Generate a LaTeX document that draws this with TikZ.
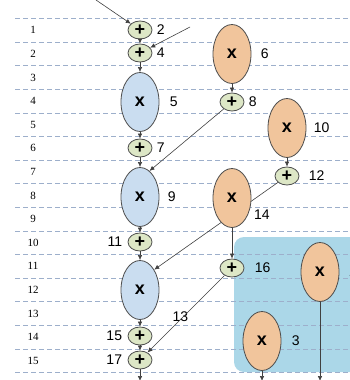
\documentclass[tikz,border=0pt]{standalone}
\usepackage{fontspec}
\setmainfont{Liberation Serif}
\setsansfont{Liberation Sans}
\usepackage{xcolor}
\usetikzlibrary{arrows.meta, shapes.geometric}

\definecolor{hijau}{HTML}{DDE7C6}
\definecolor{biru}{HTML}{CADDF0}
\definecolor{oranye}{HTML}{F1C59C}
\definecolor{blok}{HTML}{ABD7E8}
\definecolor{putus}{HTML}{9DAFCB}

\begin{document}
\begin{tikzpicture}[x=1pt, y=-1pt,
    op/.style={draw=black!70, ellipse, line width=0.8pt, inner sep=0pt,
               font=\sffamily\bfseries\fontsize{18}{18}\selectfont},
    tambah/.style={op, fill=hijau, minimum width=24pt, minimum height=18pt},
    kali/.style={op, minimum width=38pt, minimum height=59pt},
    kalib/.style={kali, fill=biru},
    kalio/.style={kali, fill=oranye},
    nomor/.style={font=\sffamily\fontsize{14}{14}\selectfont},
    baris/.style={font=\fontsize{11}{11}\selectfont},
    garis/.style={draw=black!75, line width=0.6pt, -{Latex[length=5pt, width=4.5pt]}},
    every label/.style={nomor}
  ]
    \useasboundingbox (0,0) rectangle (350,380);
    % blue block
    \fill[blok, rounded corners=10pt] (234,237) rectangle (365,372);
    % dashed grid and row numbers
    \foreach \k in {0,...,15}
      \draw[putus, dashed, dash pattern=on 5pt off 3pt, line width=0.6pt]
        (15,{18.5+23.6*\k}) -- (350,{18.5+23.6*\k});
    \foreach \k in {1,...,15}
      \node[baris] (r\k) at (33,{18.5+23.6*(\k-0.5)}) {\k};

    % main column
    \node[tambah, label={[label distance=1pt]right:2}] (p2) at (140,30) {+};
    \node[tambah, label={[label distance=1pt]right:4}] (p4) at (140,53) {+};
    \node[kalib, label={[label distance=7pt]right:5}] (m5) at (140,102) {x};
    \node[tambah, label={[label distance=1pt]right:7}] (p7) at (140,148) {+};
    \node[kalib, label={[label distance=5pt]right:9}] (m9) at (140,197) {x};
    \node[tambah, label={[label distance=2pt]left:11}] (p11) at (140,242) {+};
    \node[kalib, label={[label distance=13pt]-32:13}] (m13) at (140,290) {x};
    \node[tambah, label={[label distance=2pt]left:15}] (p15) at (140,336) {+};
    \node[tambah, label={[label distance=2pt]left:17}] (p17) at (140,360) {+};

    % right columns
    \node[kalio, label={[label distance=6pt]right:6}] (m6) at (232,54) {x};
    \node[tambah, label={[label distance=1pt]right:8}] (p8) at (232,102) {+};
    \node[kalio, label={[label distance=4pt]right:10}] (m10) at (287,128) {x};
    \node[tambah, label={[label distance=6pt]right:12}] (p12) at (287,176) {+};
    \draw[garis] (p12) -- (m13.55);
    \node[kalio, label={[label distance=0pt]-25:14}] (m14) at (232,198) {x};
    \node[tambah, label={[label distance=7pt]right:16}] (p16) at (232,268) {+};
    \node[kalio, label={[label distance=6pt]right:1}] (m1) at (320,272) {x};
    \node[kalio, label={[label distance=7pt]right:3}] (m3) at (262,341) {x};

    % loose ends
    \coordinate (a1) at (96,0);
    \coordinate (a2) at (190,27);
    \coordinate (o17) at (140,381);
    \coordinate (o3) at (262,381);
    \coordinate (o1) at (320,381);

    \draw[garis] (a1) -- (p2);
    \draw[garis] (a2) -- (p4);
    \draw[garis] (p2) -- (p4);
    \draw[garis] (p4) -- (m5);
    \draw[garis] (m5) -- (p7);
    \draw[garis] (p7) -- (m9);
    \draw[garis] (m9) -- (p11);
    \draw[garis] (p11) -- (m13);
    \draw[garis] (m13) -- (p15);
    \draw[garis] (p15) -- (p17);
    \draw[garis] (p17) -- (o17);
    \draw[garis] (m6) -- (p8);
    \draw[garis] (p8) -- (m9.70);
    \draw[garis] (m10) -- (p12);
    \draw[garis] (m14) -- (p16);
    \draw[garis] (p16) -- (p17);
    \draw[garis] (m3) -- (o3);
    \draw[garis] (m1) -- (o1);
\end{tikzpicture}
\end{document}
